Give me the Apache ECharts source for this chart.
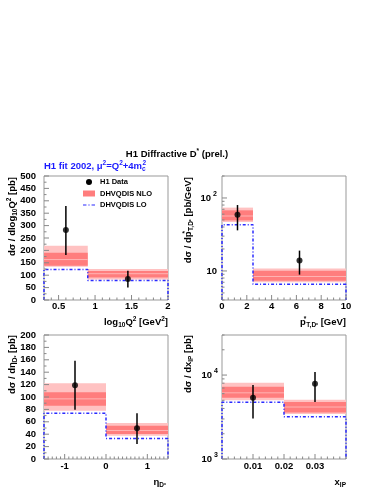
<!DOCTYPE html>
<html><head><meta charset="utf-8">
<script src="https://cdn.jsdelivr.net/npm/echarts@6/dist/echarts.min.js"></script>
<style>html,body{margin:0;padding:0;background:#fff}#c{width:383px;height:495px}</style>
</head><body><div id="c"></div>
<script>
// ---- Panel 1: log10 Q^2 ----
const q2Edges = [0.3, 0.9, 2.0];
const q2X = [0.6, 1.45];
const q2Val = [282, 85];
const q2ErrLo = [181, 50];
const q2ErrHi = [379, 118];
const q2NloOuterLo = [134, 83];
const q2NloOuterHi = [219, 125];
const q2NloInnerLo = [138, 91];
const q2NloInnerHi = [191, 117];
const q2NloCentral = [163, 106];
const q2Lo = [123, 79];
const q2XLabels = [0.5, 1, 1.5, 2];
const q2YLabels = [0, 50, 100, 150, 200, 250, 300, 350, 400, 450, 500];

// ---- Panel 2: pT* ----
const ptEdges = [0, 2.5, 10];
const ptX = [1.25, 6.25];
const ptVal = [59, 13.9];
const ptErrLo = [36, 8.9];
const ptErrHi = [80, 19];
const ptNloOuterLo = [46.8, 7.0];
const ptNloOuterHi = [73.8, 10.8];
const ptNloInnerLo = [49.3, 7.36];
const ptNloInnerHi = [67.7, 10.1];
const ptNloCentral = [56.6, 8.4];
const ptLo = [43, 6.55];
const ptXLabels = [0, 2, 4, 6, 8, 10];

// ---- Panel 3: eta ----
const etaEdges = [-1.5, 0, 1.5];
const etaX = [-0.75, 0.75];
const etaVal = [119, 49.5];
const etaErrLo = [79.5, 24];
const etaErrHi = [158.5, 73.7];
const etaNloOuterLo = [78, 37.6];
const etaNloOuterHi = [122, 58];
const etaNloInnerLo = [86, 40.3];
const etaNloInnerHi = [107.5, 53.8];
const etaNloCentral = [97, 46];
const etaLo = [73.7, 33];
const etaXLabels = [-1, 0, 1];
const etaYLabels = [0, 20, 40, 60, 80, 100, 120, 140, 160, 180, 200];

// ---- Panel 4: x_IP ----
const xipEdges = [0, 0.02, 0.04];
const xipX = [0.01, 0.03];
const xipVal = [5350, 7870];
const xipErrLo = [3030, 4790];
const xipErrHi = [7590, 10870];
const xipNloOuterLo = [5000, 3430];
const xipNloOuterHi = [8100, 5090];
const xipNloInnerLo = [5350, 3580];
const xipNloInnerHi = [7240, 4790];
const xipNloCentral = [6140, 4160];
const xipLo = [4730, 3180];
const xipXLabels = [0.01, 0.02, 0.03];

const FONT = '"Liberation Sans", Arial, Helvetica, sans-serif';
const OUTER = '#ffc2c2', INNER = '#ff7d7d', CENTRAL = '#ffb4b4', BLUE = '#2a2aff';
const TICK = '#888';

const panels = [
  {grid:{left:44, top:176, width:124, height:124}, xMin:0.3, xMax:2, yMin:0, yMax:500, yLog:false,
   xLabels:q2XLabels, yLabels:q2YLabels, xMinorStep:0.1, yMinorStep:25, xMargin:1, yMargin:8,
   edges:q2Edges, x:q2X, val:q2Val, eLo:q2ErrLo, eHi:q2ErrHi,
   oLo:q2NloOuterLo, oHi:q2NloOuterHi, iLo:q2NloInnerLo, iHi:q2NloInnerHi, cen:q2NloCentral, lo:q2Lo},
  {grid:{left:222, top:176, width:124, height:124}, xMin:0, xMax:10, yMin:4, yMax:200, yLog:true,
   xLabels:ptXLabels, xMinorStep:0.5, xMargin:1, yMargin:5,
   edges:ptEdges, x:ptX, val:ptVal, eLo:ptErrLo, eHi:ptErrHi,
   oLo:ptNloOuterLo, oHi:ptNloOuterHi, iLo:ptNloInnerLo, iHi:ptNloInnerHi, cen:ptNloCentral, lo:ptLo},
  {grid:{left:44, top:335, width:124, height:124}, xMin:-1.5, xMax:1.5, yMin:0, yMax:200, yLog:false,
   xLabels:etaXLabels, yLabels:etaYLabels, xMinorStep:0.1, yMinorStep:10, xMargin:2, yMargin:8,
   edges:etaEdges, x:etaX, val:etaVal, eLo:etaErrLo, eHi:etaErrHi,
   oLo:etaNloOuterLo, oHi:etaNloOuterHi, iLo:etaNloInnerLo, iHi:etaNloInnerHi, cen:etaNloCentral, lo:etaLo},
  {grid:{left:222, top:335, width:124, height:124}, xMin:0, xMax:0.04, yMin:1000, yMax:30000, yLog:true,
   xLabels:xipXLabels, xMinorStep:0.002, xMargin:2, yMargin:4,
   edges:xipEdges, x:xipX, val:xipVal, eLo:xipErrLo, eHi:xipErrHi,
   oLo:xipNloOuterLo, oHi:xipNloOuterHi, iLo:xipNloInnerLo, iHi:xipNloInnerHi, cen:xipNloCentral, lo:xipLo}
];

function near(a, b) { return Math.abs(a - b) < 1e-9 * Math.max(1, Math.abs(a), Math.abs(b)); }
function linTicks(min, max, majors, step) {
  const out = majors.filter(v => v >= min - 1e-12 && v <= max + 1e-12).map(v => [v, 1]);
  const n = Math.round((max - min) / step);
  for (let i = 0; i <= n; i++) {
    const v = Math.round((min + i * step) * 1e9) / 1e9;
    if (!majors.some(m => near(m, v))) out.push([v, 0]);
  }
  return out;
}
function logTicks(min, max) {
  const out = [];
  for (let e = Math.floor(Math.log10(min)); e <= Math.ceil(Math.log10(max)); e++) {
    for (let k = 1; k <= 9; k++) {
      const v = k * Math.pow(10, e);
      if (v >= min * 0.999 && v <= max * 1.001) out.push([v, k === 1 ? 1 : 0]);
    }
  }
  return out;
}
function logLabel(v) {
  const e = Math.log10(v), r = Math.round(e);
  if (Math.abs(e - r) > 1e-6) return '';
  if (r === 1) return '10';
  return '10{sup|' + r + '}';
}

function renderBand(params, api) {
  const x0 = api.value(0), x1 = api.value(1);
  const rect = (lo, hi, fill) => {
    const a = api.coord([x0, hi]), b = api.coord([x1, lo]);
    return {type:'rect', shape:{x:a[0], y:a[1], width:b[0]-a[0], height:b[1]-a[1]}, style:{fill:fill}};
  };
  const c0 = api.coord([x0, api.value(6)]), c1 = api.coord([x1, api.value(6)]);
  return {type:'group', children:[
    rect(api.value(2), api.value(3), OUTER),
    rect(api.value(4), api.value(5), INNER),
    {type:'line', shape:{x1:c0[0], y1:c0[1], x2:c1[0], y2:c1[1]}, style:{stroke:CENTRAL, lineWidth:1}}
  ]};
}
function renderErr(params, api) {
  const a = api.coord([api.value(0), api.value(1)]), b = api.coord([api.value(0), api.value(2)]);
  return {type:'line', shape:{x1:a[0], y1:a[1], x2:b[0], y2:b[1]}, style:{stroke:'#000', lineWidth:1.5}};
}
function tickRenderer(dir) {
  return function(params, api) {
    const cs = params.coordSys;
    const len = api.value(2) === 1 ? 5 : 2.5;
    const p = api.coord([api.value(0), api.value(1)]);
    if (dir === 'x') {
      const yb = cs.y + cs.height;
      return {type:'line', shape:{x1:p[0], y1:yb, x2:p[0], y2:yb-len}, style:{stroke:TICK, lineWidth:1}};
    }
    return {type:'line', shape:{x1:cs.x, y1:p[1], x2:cs.x+len, y2:p[1]}, style:{stroke:TICK, lineWidth:1}};
  };
}

const labelStyle = {color:'#000', fontFamily:FONT, fontWeight:'bold', fontSize:9.5};
const grids = [], xAxes = [], yAxes = [], series = [];
panels.forEach((P, i) => {
  grids.push(Object.assign({show:true, borderColor:'#999', borderWidth:1, backgroundColor:'transparent'}, P.grid));
  xAxes.push({type:'value', gridIndex:i, min:P.xMin, max:P.xMax,
    axisLine:{show:false}, axisTick:{show:false}, splitLine:{show:false},
    axisLabel:Object.assign({margin:P.xMargin, customValues:P.xLabels, showMinLabel:true, showMaxLabel:true}, labelStyle)});
  if (P.yLog) {
    yAxes.push({type:'log', logBase:10, gridIndex:i, min:P.yMin, max:P.yMax,
      axisLine:{show:false}, axisTick:{show:false}, splitLine:{show:false}, minorSplitLine:{show:false},
      axisLabel:Object.assign({margin:P.yMargin, formatter:logLabel, lineHeight:14,
        rich:{sup:{fontSize:7, fontWeight:'bold', fontFamily:FONT, color:'#000', verticalAlign:'top', lineHeight:7, padding:[0,0,0,2]}}}, labelStyle)});
  } else {
    yAxes.push({type:'value', gridIndex:i, min:P.yMin, max:P.yMax,
      axisLine:{show:false}, axisTick:{show:false}, splitLine:{show:false},
      axisLabel:Object.assign({margin:P.yMargin, customValues:P.yLabels}, labelStyle)});
  }
  const bandData = [0, 1].map(b => [P.edges[b], P.edges[b+1], P.oLo[b], P.oHi[b], P.iLo[b], P.iHi[b], P.cen[b]]);
  series.push({type:'custom', name:'DHVQDIS NLO', xAxisIndex:i, yAxisIndex:i, renderItem:renderBand,
    itemStyle:{color:INNER}, encode:{x:[0,1], y:[2,3,4,5,6]}, data:bandData, z:1, silent:true});
  const e = P.edges;
  series.push({type:'line', name:'DHVQDIS LO', xAxisIndex:i, yAxisIndex:i, showSymbol:false, clip:false,
    data:[[e[0], P.yMin], [e[0], P.lo[0]], [e[1], P.lo[0]], [e[1], P.lo[1]], [e[2], P.lo[1]], [e[2], P.yMin]],
    itemStyle:{color:BLUE}, lineStyle:{color:BLUE, width:1.5, type:[3,2,1,2]}, z:2, silent:true});
  series.push({type:'custom', name:'H1 Data', xAxisIndex:i, yAxisIndex:i, renderItem:renderErr,
    itemStyle:{color:'#000'}, encode:{x:0, y:[1,2]}, data:P.x.map((x, k) => [x, P.eLo[k], P.eHi[k]]), z:3, silent:true});
  series.push({type:'scatter', name:'H1 Data', xAxisIndex:i, yAxisIndex:i, symbol:'circle', symbolSize:6,
    itemStyle:{color:'#000'}, data:P.x.map((x, k) => [x, P.val[k]]), z:4, silent:true});
  const xt = linTicks(P.xMin, P.xMax, P.xLabels, P.xMinorStep).map(t => [t[0], P.yMin, t[1]]);
  const yt = (P.yLog ? logTicks(P.yMin, P.yMax) : linTicks(P.yMin, P.yMax, P.yLabels, P.yMinorStep)).map(t => [P.xMin, t[0], t[1]]);
  series.push({type:'custom', xAxisIndex:i, yAxisIndex:i, renderItem:tickRenderer('x'), encode:{x:0, y:1}, data:xt, z:5, silent:true, clip:false});
  series.push({type:'custom', xAxisIndex:i, yAxisIndex:i, renderItem:tickRenderer('y'), encode:{x:0, y:1}, data:yt, z:5, silent:true, clip:false});
});

const rich = {
  sup:{fontSize:6.5, fontWeight:'bold', fontFamily:FONT, verticalAlign:'top', lineHeight:7},
  sub:{fontSize:6.5, fontWeight:'bold', fontFamily:FONT, verticalAlign:'bottom', lineHeight:7},
  supw:{fontSize:6.5, fontWeight:'bold', fontFamily:FONT, verticalAlign:'top', lineHeight:7, width:0.5},
  subw:{fontSize:6.5, fontWeight:'bold', fontFamily:FONT, verticalAlign:'bottom', lineHeight:7, width:0.5},
  subsup:{fontSize:5, fontWeight:'bold', fontFamily:FONT, verticalAlign:'bottom', lineHeight:10}
};
function txt(x, y, text, opts) {
  return Object.assign({type:'text', x:x, y:y, silent:true,
    style:Object.assign({text:text, fontSize:9.5, fontWeight:'bold', fontFamily:FONT, fill:'#000',
      align:'right', verticalAlign:'middle', lineHeight:13, rich:rich}, opts && opts.style)}, opts && opts.el);
}
const R = Math.PI / 2;
const graphic = [
  txt(177, 154, 'H1 Diffractive D{sup|*} (prel.)', {style:{align:'center'}}),
  txt(44, 166, 'H1 fit 2002, μ{sup|2}=Q{sup|2}+4m{subw|c}{sup|2}', {style:{align:'left', fill:'#1a1aff'}}),
  txt(12.5, 177, 'dσ / dlog{sub|10}Q{sup|2} [pb]', {el:{rotation:R}}),
  txt(188, 177, 'dσ / dp{supw|*}{sub|T,D}{subsup|*} [pb/GeV]', {el:{rotation:R}}),
  txt(12.5, 335, 'dσ / dη{sub|D}{subsup|*} [pb]', {el:{rotation:R}}),
  txt(188, 335, 'dσ / dx{sub|IP} [pb]', {el:{rotation:R}}),
  txt(168, 322, 'log{sub|10}Q{sup|2} [GeV{sup|2}]'),
  txt(346, 322, 'p{supw|*}{sub|T,D}{subsup|*} [GeV]'),
  txt(166, 482, 'η{sub|D}{subsup|*}'),
  txt(346, 482, 'x{sub|IP}')
];

const chart = echarts.init(document.getElementById('c'), null, {renderer:'canvas'});
chart.setOption({
  animation:false,
  backgroundColor:'#fff',
  grid:grids, xAxis:xAxes, yAxis:yAxes, series:series, graphic:graphic,
  legend:{show:true, orient:'vertical', left:83, top:178, padding:0, itemGap:3.5, itemWidth:12, itemHeight:6,
    textStyle:{fontSize:7.5, fontWeight:'bold', fontFamily:FONT, color:'#000'}, selectedMode:false,
    data:[
      {name:'H1 Data', icon:'circle', itemStyle:{color:'#000'}},
      {name:'DHVQDIS NLO', icon:'rect', itemStyle:{color:INNER}},
      {name:'DHVQDIS LO', icon:'path://M0,0L0.01,0L0.01,0.01ZM0,6L0.01,6L0.01,6.01ZM0,2.4h3.5v1.2h-3.5zM5.5,2.4h1.2v1.2h-1.2zM8.7,2.4h3.5v1.2h-3.5z', itemStyle:{color:BLUE, borderWidth:0}}
    ]}
});
</script></body></html>
